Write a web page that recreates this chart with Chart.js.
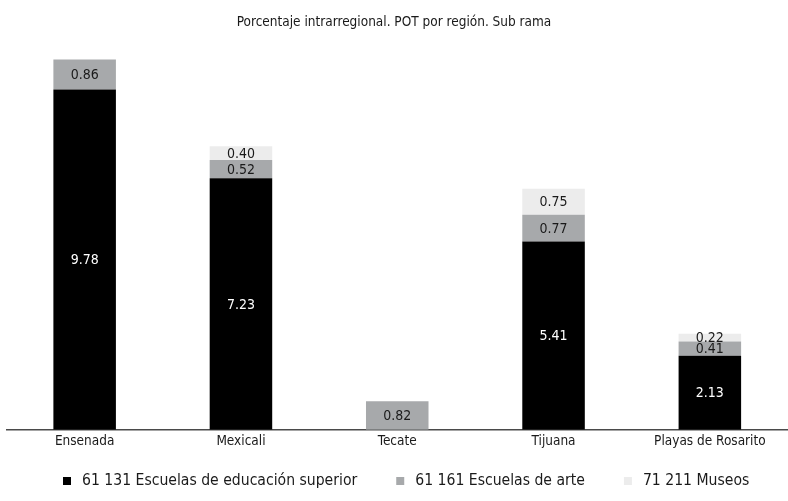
<!DOCTYPE html>
<html>
<head>
<meta charset="utf-8">
<script src="https://cdn.jsdelivr.net/npm/chart.js@4"></script>
<style>
  body { margin: 0; background: #fff; }
  #wrap { width: 788px; height: 501px; }
</style>
</head>
<body>
<div id="wrap"><canvas id="grafica"></canvas></div>
<script>
// datos
const regiones = ['Ensenada', 'Mexicali', 'Tecate', 'Tijuana', 'Playas de Rosarito']
const superior = [9.78, 7.23, null, 5.41, 2.13]
const arte = [0.86, 0.52, 0.82, 0.77, 0.41]
const museos = [null, 0.40, null, 0.75, 0.22]
const nombres = ['61 131 Escuelas de educación superior', '61 161 Escuelas de arte', '71 211 Museos']
const titulo = 'Porcentaje intrarregional. POT por región. Sub rama'

const fuente = "'DejaVu Sans Condensed', 'DejaVu Sans', sans-serif"
Chart.defaults.font.family = fuente
Chart.defaults.color = '#1a1a1a'

// etiquetas dentro de cada segmento
const etiquetas = {
    id: 'etiquetas',
    afterDatasetsDraw(chart) {
        const ctx = chart.ctx
        ctx.save()
        ctx.font = '14px ' + fuente
        ctx.textAlign = 'center'
        ctx.textBaseline = 'middle'
        chart.data.datasets.forEach((ds, i) => {
            const meta = chart.getDatasetMeta(i)
            meta.data.forEach((bar, j) => {
                const v = ds.data[j]
                if (v == null) return
                ctx.fillStyle = i === 0 ? '#fff' : '#1a1a1a'
                ctx.fillText(v.toFixed(2), bar.x, (bar.y + bar.base) / 2 + 1)
            })
        })
        ctx.restore()
    }
}

// titulo centrado en el lienzo y leyenda abajo, a mano
const textos = {
    id: 'textos',
    afterDraw(chart) {
        const ctx = chart.ctx
        ctx.save()
        ctx.fillStyle = '#1a1a1a'
        ctx.textBaseline = 'middle'
        ctx.textAlign = 'center'
        ctx.font = '13.5px ' + fuente
        ctx.fillText(titulo, chart.width / 2, 22)

        ctx.textAlign = 'left'
        ctx.font = '15.6px ' + fuente
        let x = 63
        const y = 481
        chart.data.datasets.forEach(ds => {
            ctx.fillStyle = ds.backgroundColor
            ctx.fillRect(x, y - 4, 8, 8)
            ctx.fillStyle = '#1a1a1a'
            ctx.fillText(ds.label, x + 19, y)
            x += 19 + ctx.measureText(ds.label).width + 39
        })
        ctx.restore()
    }
}

let grafica = new Chart(document.getElementById('grafica').getContext('2d'), {
    type: 'bar',
    data: {
        labels: regiones,
        datasets: [
            { label: nombres[0], data: superior, backgroundColor: '#000000' },
            { label: nombres[1], data: arte, backgroundColor: '#a7a9ab' },
            { label: nombres[2], data: museos, backgroundColor: '#ececec' }
        ]
    },
    options: {
        responsive: true,
        maintainAspectRatio: false,
        animation: false,
        layout: { padding: { left: 6.5, right: -9, top: 47, bottom: 47 } },
        datasets: { bar: { categoryPercentage: 1, barPercentage: 0.4 } },
        scales: {
            x: {
                stacked: true,
                grid: { display: false, drawTicks: false },
                border: { display: true, color: '#4a4a4a', width: 1.5 },
                ticks: { font: { size: 13.5 }, color: '#1a1a1a', padding: 4 }
            },
            y: {
                stacked: true,
                display: false,
                min: 0,
                max: 11
            }
        },
        plugins: {
            title: { display: false },
            legend: { display: false },
            tooltip: { enabled: false }
        }
    },
    plugins: [etiquetas, textos]
});
</script>
</body>
</html>
